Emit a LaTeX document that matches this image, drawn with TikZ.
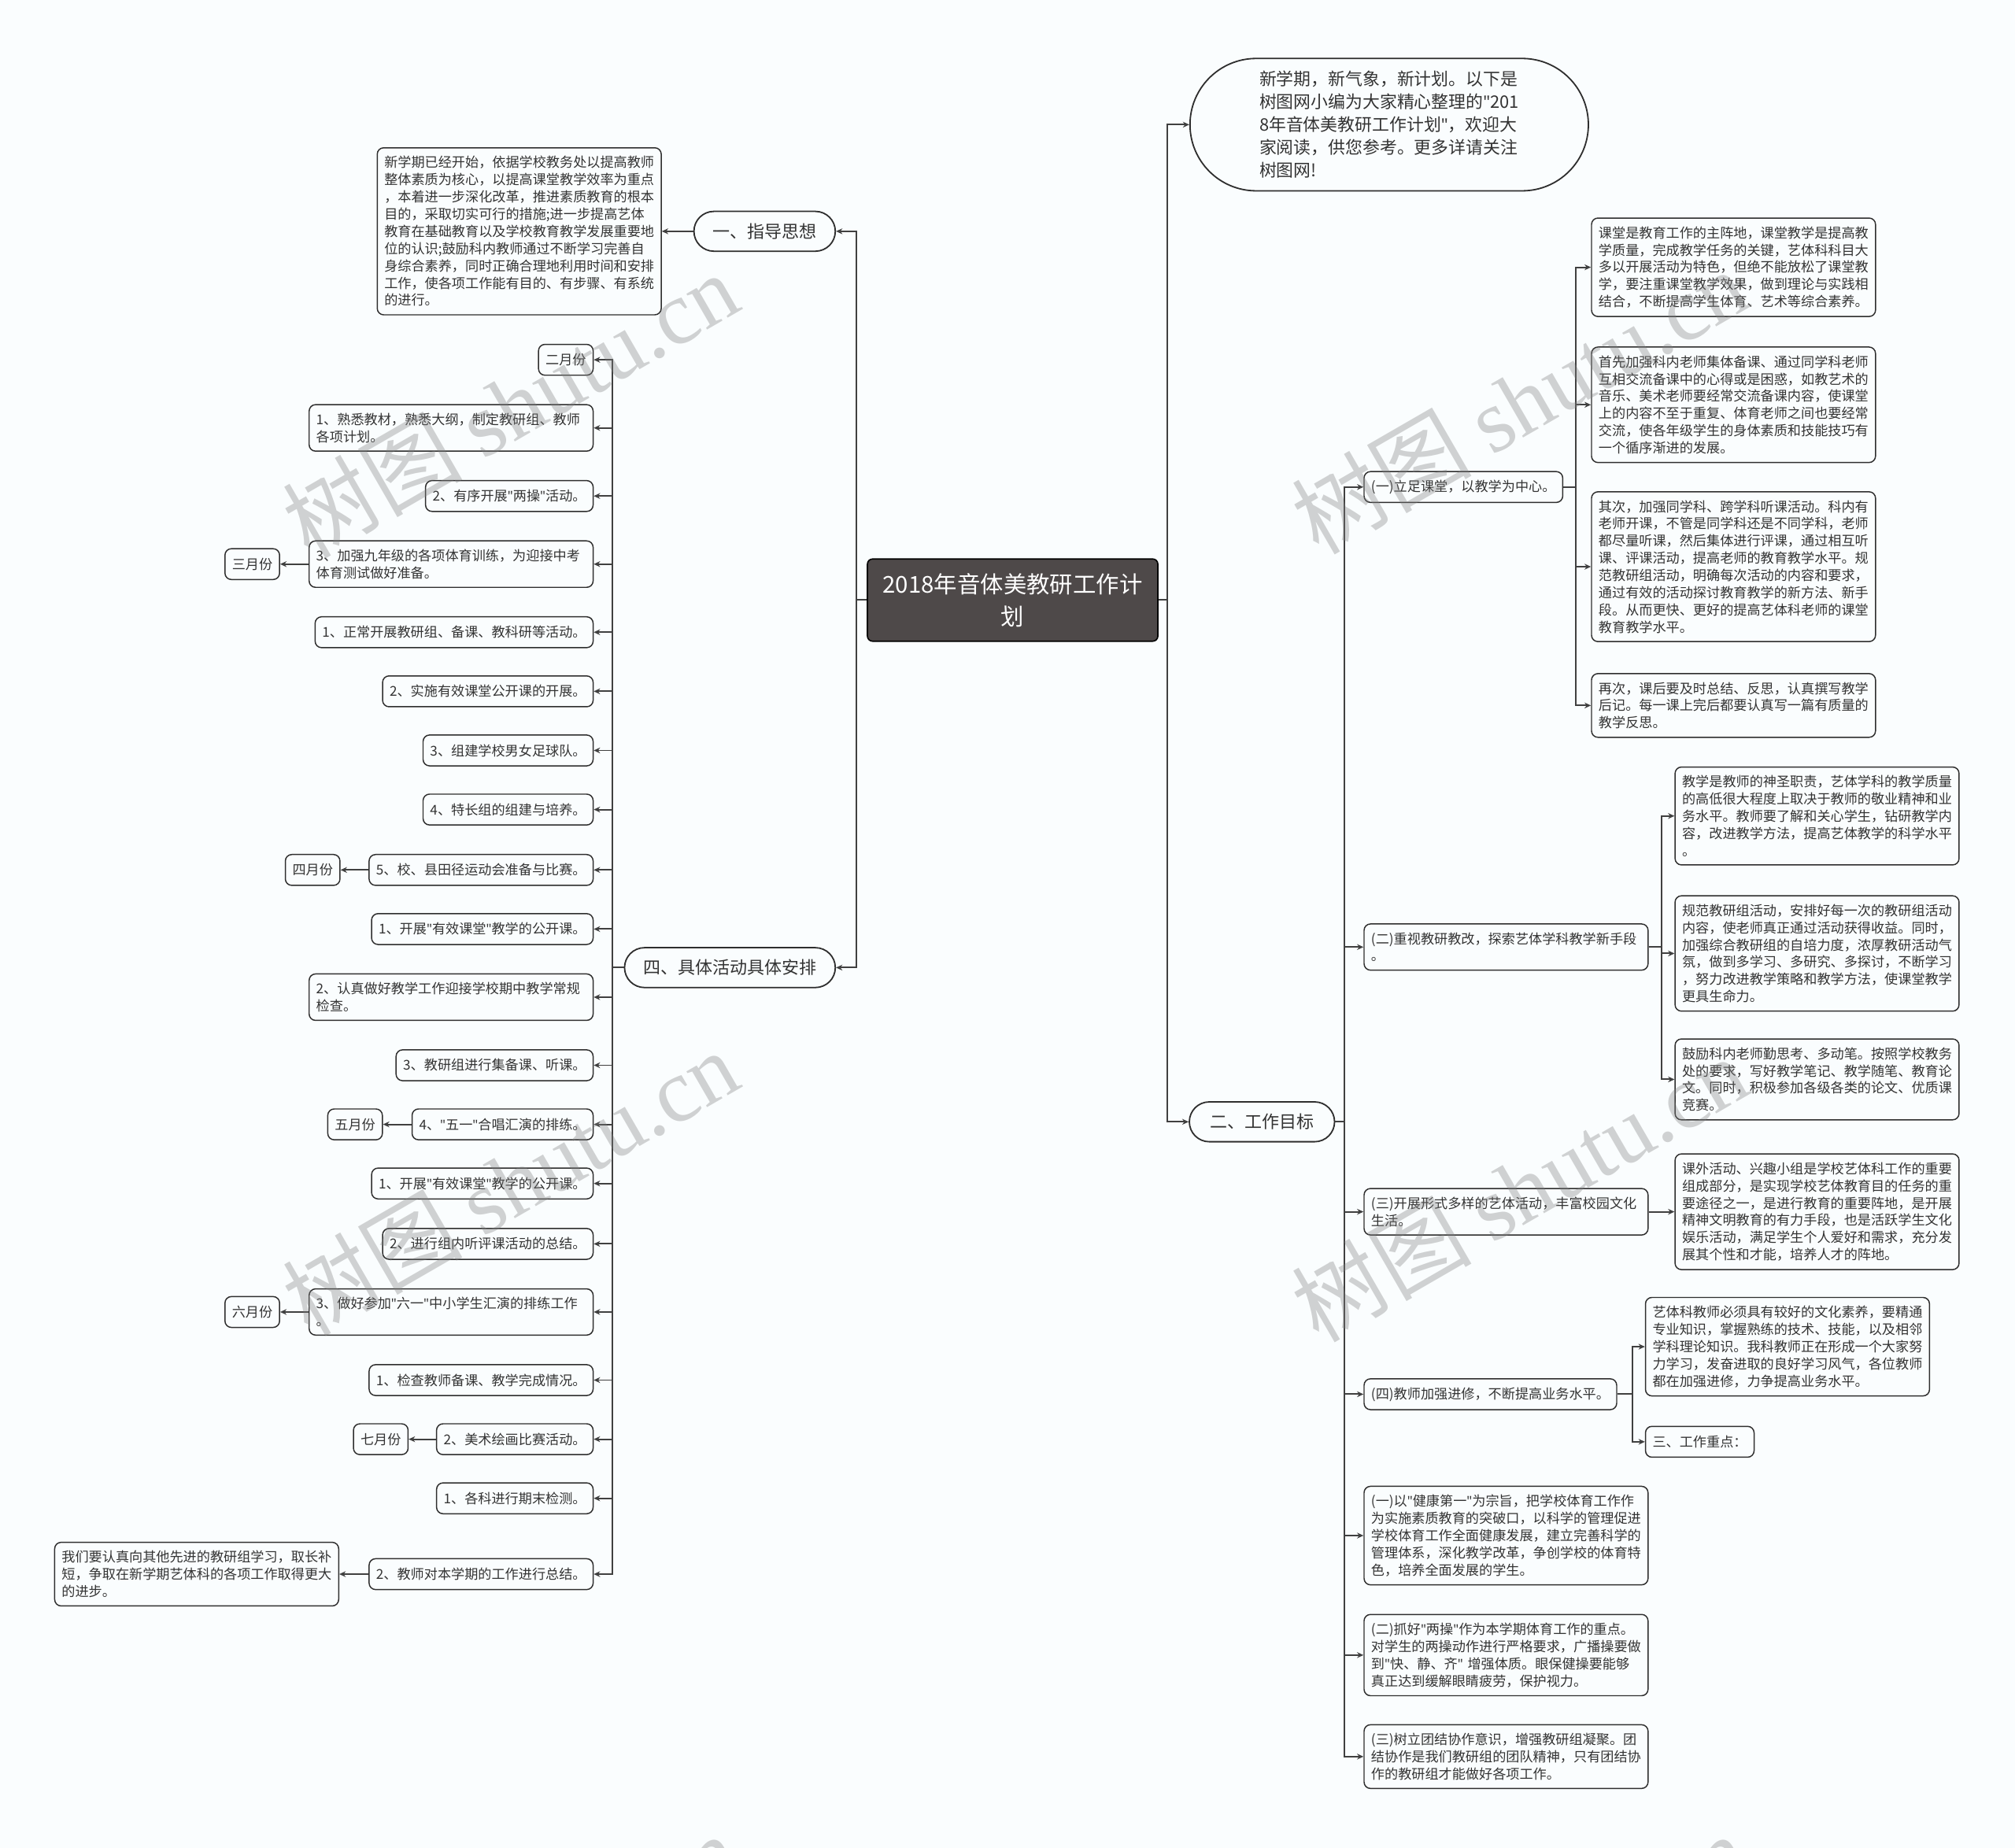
\documentclass[tikz,border=0pt]{standalone}
\usepackage{fontspec}
\setmainfont{Noto Sans CJK SC}
\newfontfamily\wmserif{Liberation Serif}
\newfontfamily\latinfont{Noto Sans}
\newcommand\dq{{\latinfont"}}
\usetikzlibrary{arrows.meta, shapes.misc}

\definecolor{linegray}{HTML}{404040}
\definecolor{boxline}{HTML}{2E2E2E}
\definecolor{textgray}{HTML}{333333}
\definecolor{rootfill}{HTML}{4E4949}
\definecolor{pagebg}{HTML}{FAFDFE}

\begin{document}
\begin{tikzpicture}[x=1pt, y=-1pt,
    root/.style={draw=black, line width=1pt, fill=rootfill, rounded corners=4pt, text=white, minimum width=226pt, minimum height=64pt, align=center, font=\fontsize{18}{25.3}\selectfont},
    pill/.style={draw=boxline, line width=1.1pt, rounded rectangle, minimum height=31pt, inner xsep=1pt, text=textgray, font=\fontsize{13.5}{17}\selectfont},
    note/.style={draw=boxline, line width=0.9pt, rounded corners=5pt, inner xsep=5.5pt, inner ysep=6.5pt, minimum height=24pt, text=textgray, font=\fontsize{10.5}{13.4}\selectfont},
    para/.style={note, text width=210pt, align=left},
    link/.style={draw=linegray, line width=1.2pt, -{Stealth[length=5pt, width=4.5pt]}},
    wm/.style={text=gray, opacity=0.35, rotate=30, inner sep=0pt, font=\fontsize{70}{70}\selectfont}
]
\useasboundingbox (0,0) rectangle (1568,1438);
\fill[pagebg] (0,0) rectangle (1568,1438);

% centre topic
\node[root] (root) at (788,467) {2018年音体美教研工作计\\划};

% right branch
\node[pill, minimum width=312pt, minimum height=103pt, align=left, font=\fontsize{13.4}{17.8}\selectfont] (intro) at (1081,97) {新学期，新气象，新计划。以下是\\树图网小编为大家精心整理的\dq201\\8年音体美教研工作计划\dq，欢迎大\\家阅读，供您参考。更多详请关注\\树图网!};
\node[pill, minimum width=115pt] (goal) at (982,873) {二、工作目标};

\node[note, anchor=west] (a1) at (1061,379) {(一)立足课堂，以教学为中心。};
\node[para, anchor=west] (a2) at (1061,737) {(二)重视教研教改，探索艺体学科教学新手段\\。};
\node[para, anchor=west] (a3) at (1061,943) {(三)开展形式多样的艺体活动，丰富校园文化\\生活。};
\node[note, anchor=west] (a4) at (1061,1085) {(四)教师加强进修，不断提高业务水平。};
\node[para, anchor=west] (a5) at (1061,1195) {(一)以\dq 健康第一\dq 为宗旨，把学校体育工作作\\为实施素质教育的突破口，以科学的管理促进\\学校体育工作全面健康发展，建立完善科学的\\管理体系，深化教学改革，争创学校的体育特\\色，培养全面发展的学生。};
\node[para, anchor=west] (a6) at (1061,1288) {(二)抓好\dq 两操\dq 作为本学期体育工作的重点。\\对学生的两操动作进行严格要求，广播操要做\\到\dq 快、静、齐\dq~增强体质。眼保健操要能够\\真正达到缓解眼睛疲劳，保护视力。};
\node[para, anchor=west] (a7) at (1061,1367) {(三)树立团结协作意识，增强教研组凝聚。团\\结协作是我们教研组的团队精神，只有团结协\\作的教研组才能做好各项工作。};

% (一) details
\node[para, anchor=west] (a1p1) at (1238,208) {课堂是教育工作的主阵地，课堂教学是提高教\\学质量，完成教学任务的关键，艺体科科目大\\多以开展活动为特色，但绝不能放松了课堂教\\学，要注重课堂教学效果，做到理论与实践相\\结合，不断提高学生体育、艺术等综合素养。};
\node[para, anchor=west] (a1p2) at (1238,315) {首先加强科内老师集体备课、通过同学科老师\\互相交流备课中的心得或是困惑，如教艺术的\\音乐、美术老师要经常交流备课内容，使课堂\\上的内容不至于重复、体育老师之间也要经常\\交流，使各年级学生的身体素质和技能技巧有\\一个循序渐进的发展。};
\node[para, anchor=west] (a1p3) at (1238,441) {其次，加强同学科、跨学科听课活动。科内有\\老师开课，不管是同学科还是不同学科，老师\\都尽量听课，然后集体进行评课，通过相互听\\课、评课活动，提高老师的教育教学水平。规\\范教研组活动，明确每次活动的内容和要求，\\通过有效的活动探讨教育教学的新方法、新手\\段。从而更快、更好的提高艺体科老师的课堂\\教育教学水平。};
\node[para, anchor=west] (a1p4) at (1238,549) {再次，课后要及时总结、反思，认真撰写教学\\后记。每一课上完后都要认真写一篇有质量的\\教学反思。};

% (二) details
\node[para, anchor=west] (a2p1) at (1303,635) {教学是教师的神圣职责，艺体学科的教学质量\\的高低很大程度上取决于教师的敬业精神和业\\务水平。教师要了解和关心学生，钻研教学内\\容，改进教学方法，提高艺体教学的科学水平\\。};
\node[para, anchor=west] (a2p2) at (1303,742) {规范教研组活动，安排好每一次的教研组活动\\内容，使老师真正通过活动获得收益。同时，\\加强综合教研组的自培力度，浓厚教研活动气\\氛，做到多学习、多研究、多探讨，不断学习\\，努力改进教学策略和教学方法，使课堂教学\\更具生命力。};
\node[para, anchor=west] (a2p3) at (1303,840) {鼓励科内老师勤思考、多动笔。按照学校教务\\处的要求，写好教学笔记、教学随笔、教育论\\文。同时，积极参加各级各类的论文、优质课\\竞赛。};

% (三) and (四) details
\node[para, anchor=west] (a3p1) at (1303,943) {课外活动、兴趣小组是学校艺体科工作的重要\\组成部分，是实现学校艺体教育目的任务的重\\要途径之一，是进行教育的重要阵地，是开展\\精神文明教育的有力手段，也是活跃学生文化\\娱乐活动，满足学生个人爱好和需求，充分发\\展其个性和才能，培养人才的阵地。};
\node[para, anchor=west] (a4p1) at (1280,1048) {艺体科教师必须具有较好的文化素养，要精通\\专业知识，掌握熟练的技术、技能，以及相邻\\学科理论知识。我科教师正在形成一个大家努\\力学习，发奋进取的良好学习风气，各位教师\\都在加强进修，力争提高业务水平。};
\node[note, anchor=west] (a4p2) at (1280,1122) {三、工作重点：};

% right connectors
\draw[link] (root.east) -- ++(7,0) |- (intro);
\draw[link] (root.east) -- ++(7,0) |- (goal);
\foreach \n in {a1,a2,a3,a4,a5,a6,a7}
  \draw[link] (goal.east) -- ++(7,0) |- (\n);
\foreach \n in {a1p1,a1p2,a1p3,a1p4}
  \draw[link] (a1.east) -- ++(10,0) |- (\n);
\foreach \n in {a2p1,a2p2,a2p3}
  \draw[link] (a2.east) -- ++(10,0) |- (\n);
\draw[link] (a3) -- (a3p1);
\foreach \n in {a4p1,a4p2}
  \draw[link] (a4.east) -- ++(12,0) |- (\n);

% left branch
\node[pill, minimum width=112pt] (guide) at (595,180) {一、指导思想};
\node[para, anchor=east] (guidetext) at (515,180) {新学期已经开始，依据学校教务处以提高教师\\整体素质为核心，以提高课堂教学效率为重点\\，本着进一步深化改革，推进素质教育的根本\\目的，采取切实可行的措施;进一步提高艺体\\教育在基础教育以及学校教育教学发展重要地\\位的认识;鼓励科内教师通过不断学习完善自\\身综合素养，同时正确合理地利用时间和安排\\工作，使各项工作能有目的、有步骤、有系统\\的进行。};
\node[pill, minimum width=166pt] (plan) at (568,753) {四、具体活动具体安排};

% monthly items
\node[note, anchor=east] (m1) at (462,280) {二月份};
\node[para, anchor=east] (m2) at (462,333) {1、熟悉教材，熟悉大纲，制定教研组、教师\\各项计划。};
\node[note, anchor=east] (m3) at (462,386) {2、有序开展\dq 两操\dq 活动。};
\node[para, anchor=east] (m4) at (462,439) {3、加强九年级的各项体育训练，为迎接中考\\体育测试做好准备。};
\node[note, anchor=east] (m5) at (462,492) {1、正常开展教研组、备课、教科研等活动。};
\node[note, anchor=east] (m6) at (462,538) {2、实施有效课堂公开课的开展。};
\node[note, anchor=east] (m7) at (462,584) {3、组建学校男女足球队。};
\node[note, anchor=east] (m8) at (462,630) {4、特长组的组建与培养。};
\node[note, anchor=east] (m9) at (462,677) {5、校、县田径运动会准备与比赛。};
\node[note, anchor=east] (m10) at (462,723) {1、开展\dq 有效课堂\dq 教学的公开课。};
\node[para, anchor=east] (m11) at (462,776) {2、认真做好教学工作迎接学校期中教学常规\\检查。};
\node[note, anchor=east] (m12) at (462,829) {3、教研组进行集备课、听课。};
\node[note, anchor=east] (m13) at (462,875) {4、\dq 五一\dq 合唱汇演的排练。};
\node[note, anchor=east] (m14) at (462,921) {1、开展\dq 有效课堂\dq 教学的公开课。};
\node[note, anchor=east] (m15) at (462,968) {2、进行组内听评课活动的总结。};
\node[para, anchor=east] (m16) at (462,1021) {3、做好参加\dq 六一\dq 中小学生汇演的排练工作\\。};
\node[note, anchor=east] (m17) at (462,1074) {1、检查教师备课、教学完成情况。};
\node[note, anchor=east] (m18) at (462,1120) {2、美术绘画比赛活动。};
\node[note, anchor=east] (m19) at (462,1166) {1、各科进行期末检测。};
\node[note, anchor=east] (m20) at (462,1225) {2、教师对本学期的工作进行总结。};

% month tags
\node[note, anchor=east] (mar) at (218,439) {三月份};
\node[note, anchor=east] (apr) at (265,677) {四月份};
\node[note, anchor=east] (may) at (298,875) {五月份};
\node[note, anchor=east] (jun) at (218,1021) {六月份};
\node[note, anchor=east] (jul) at (318,1120) {七月份};
\node[para, anchor=east] (wrapup) at (264,1225) {我们要认真向其他先进的教研组学习，取长补\\短，争取在新学期艺体科的各项工作取得更大\\的进步。};

% left connectors
\draw[link] (root.west) -- ++(-8,0) |- (guide);
\draw[link] (root.west) -- ++(-8,0) |- (plan);
\draw[link] (guide) -- (guidetext);
\foreach \i in {1,...,20}
  \draw[link] (plan.west) -- ++(-9,0) |- (m\i);
\draw[link] (m4) -- (mar);
\draw[link] (m9) -- (apr);
\draw[link] (m13) -- (may);
\draw[link] (m16) -- (jun);
\draw[link] (m18) -- (jul);
\draw[link] (m20) -- (wrapup);

% watermark
\foreach \p [count=\k] in {(397,315),(397,920),(1182,312),(1182,925),(397,1530),(1182,1530)}
  \node[wm] (wm\k) at \p {树图 {\wmserif shutu.cn}};
\end{tikzpicture}
\end{document}
